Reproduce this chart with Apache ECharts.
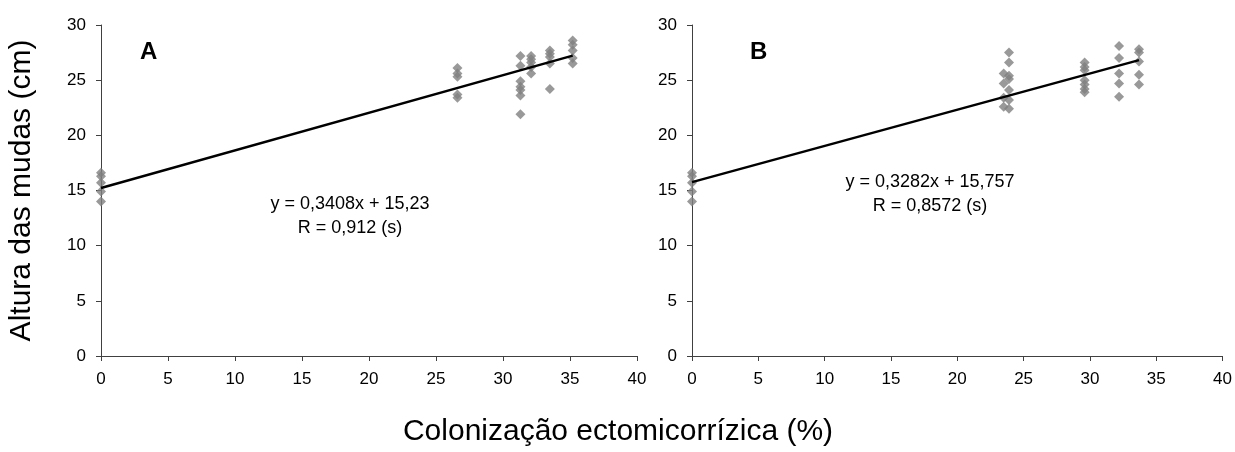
<!DOCTYPE html>
<html>
<head>
<meta charset="utf-8">
<script src="https://cdn.jsdelivr.net/npm/echarts@6/dist/echarts.min.js"></script>
<style>
  html, body { margin: 0; padding: 0; background: #fff; }
  #chart { width: 1235px; height: 452px; }
</style>
</head>
<body>
<div id="chart"></div>
<script>
// Painel A - colonizacao (%) e altura (cm)
var colonA = [0, 26.6, 31.3, 32.1, 33.5, 35.2];
var alturaA = [
    [16.6, 16.3, 15.7, 14.9, 14.0],
    [26.1, 25.6, 25.3, 23.7, 23.4],
    [27.2, 26.3, 24.9, 24.4, 24.1, 23.6, 21.9],
    [27.2, 26.9, 26.6, 26.2, 25.6],
    [27.7, 27.4, 27.1, 26.5, 24.2],
    [28.6, 28.2, 27.7, 27.0, 26.5]
];
// Painel B
var colonB = [0, 23.5, 23.9, 29.6, 32.2, 33.7];
var alturaB = [
    [16.6, 16.3, 15.7, 14.9, 14.0],
    [25.6, 24.7, 23.4, 22.6],
    [27.5, 26.6, 25.4, 25.1, 24.1, 23.2, 22.4],
    [26.6, 26.2, 25.9, 25.0, 24.6, 24.2, 23.9],
    [28.1, 27.0, 25.6, 24.7, 23.5],
    [27.8, 27.5, 26.7, 25.5, 24.6]
];
// regressao: y = a*x + b
var regA = {a: 0.3408, b: 15.23, xmax: 35.2};
var regB = {a: 0.3282, b: 15.757, xmax: 33.7};
var eqTextA = ['y = 0,3408x + 15,23', 'R = 0,912 (s)'];
var eqTextB = ['y = 0,3282x + 15,757', 'R = 0,8572 (s)'];

function pares(xs, ys) {
    var out = [];
    xs.forEach(function (x, i) {
        ys[i].forEach(function (y) { out.push([x, y]); });
    });
    return out;
}
function retaReg(r) {
    return [[0, r.b], [r.xmax, r.a * r.xmax + r.b]];
}

var fonte = '"Liberation Sans", Arial, sans-serif';
var corEixo = '#404040';

function eixoX(idx) {
    return {
        gridIndex: idx, type: 'value', min: 0, max: 40, interval: 5,
        axisLine: {show: true, lineStyle: {color: corEixo, width: 1}},
        axisTick: {show: true, length: 5, lineStyle: {color: corEixo}},
        axisLabel: {color: '#000', fontSize: 17, fontFamily: fonte, margin: 15},
        splitLine: {show: false}
    };
}
function eixoY(idx) {
    return {
        gridIndex: idx, type: 'value', min: 0, max: 30, interval: 5,
        axisLine: {show: true, onZero: false, lineStyle: {color: corEixo, width: 1}},
        axisTick: {show: true, length: 5, lineStyle: {color: corEixo}},
        axisLabel: {color: '#000', fontSize: 17, fontFamily: fonte, margin: 15},
        splitLine: {show: false}
    };
}

var yA = eixoY(0);
yA.name = 'Altura das mudas (cm)';
yA.nameLocation = 'middle';
yA.nameGap = 64;
yA.nameTextStyle = {color: '#000', fontSize: 30, fontFamily: fonte};

var chart = echarts.init(document.getElementById('chart'));
var option = {
    animation: false,
    backgroundColor: '#fff',
    grid: [
        {left: 101, top: 25, width: 536, height: 331},
        {left: 692, top: 25, width: 534, height: 331}
    ],
    xAxis: [eixoX(0), eixoX(1)],
    yAxis: [yA, eixoY(1)],
    series: [
        {
            type: 'scatter', xAxisIndex: 0, yAxisIndex: 0,
            symbol: 'diamond', symbolSize: 10,
            itemStyle: {color: '#808080'},
            data: pares(colonA, alturaA), z: 2
        },
        {
            type: 'line', xAxisIndex: 0, yAxisIndex: 0,
            symbol: 'none', lineStyle: {color: '#000', width: 2.5},
            data: retaReg(regA), z: 3
        },
        {
            type: 'scatter', xAxisIndex: 1, yAxisIndex: 1,
            symbol: 'diamond', symbolSize: 10,
            itemStyle: {color: '#808080'},
            data: pares(colonB, alturaB), z: 2
        },
        {
            type: 'line', xAxisIndex: 1, yAxisIndex: 1,
            symbol: 'none', lineStyle: {color: '#000', width: 2.5},
            data: retaReg(regB), z: 3
        }
    ],
    graphic: [
        {type: 'text', left: 140, top: 40,
            style: {text: 'A', fontSize: 24, fontWeight: 'bold', fontFamily: fonte, fill: '#000'}},
        {type: 'text', left: 750, top: 40,
            style: {text: 'B', fontSize: 24, fontWeight: 'bold', fontFamily: fonte, fill: '#000'}},
        {type: 'text', x: 350, y: 192,
            style: {text: eqTextA.join('\n'), align: 'center', lineHeight: 24, fontSize: 18, fontFamily: fonte, fill: '#000'}},
        {type: 'text', x: 930, y: 170,
            style: {text: eqTextB.join('\n'), align: 'center', lineHeight: 24, fontSize: 18, fontFamily: fonte, fill: '#000'}},
        {type: 'text', x: 618, y: 432,
            style: {text: 'Colonização ectomicorrízica (%)', align: 'center', verticalAlign: 'middle', fontSize: 30, fontFamily: fonte, fill: '#000'}}
    ]
};
chart.setOption(option);
</script>
</body>
</html>
